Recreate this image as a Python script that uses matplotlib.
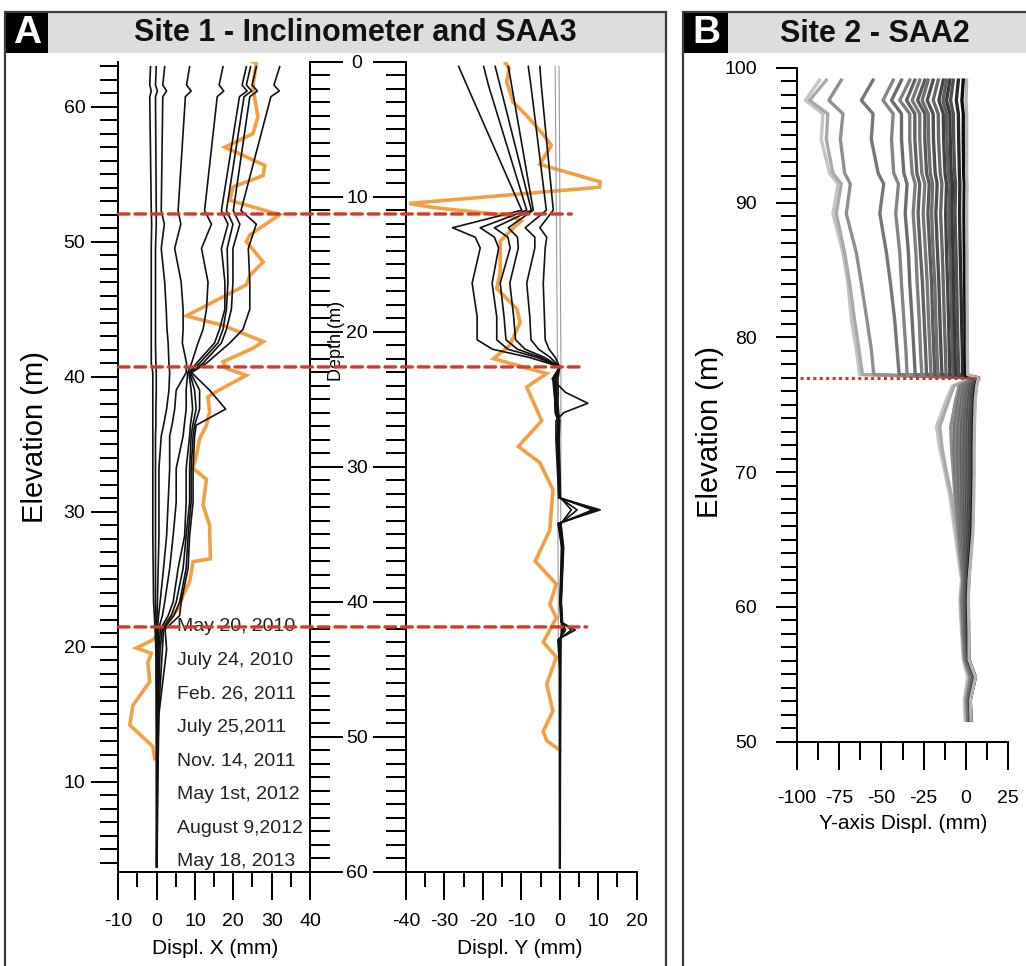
import matplotlib
matplotlib.use("Agg")
import matplotlib.pyplot as plt
from matplotlib import font_manager
from matplotlib.patches import Rectangle, ConnectionPatch
from matplotlib.ticker import MultipleLocator

plt.rcParams['font.family'] = ['Liberation Sans', 'DejaVu Sans']
plt.rcParams['axes.unicode_minus'] = False

# ---------------- data: panel A, Displ. X ----------------
TOP_ELEV = 63.33  # collar elevation (depth 0)
X_ELEV = [62.96, 61.6, 61.16, 60.74, 52.3, 51.3, 49.5, 47.0, 45.0, 43.5, 42.5, 41.0, 40.3, 39.0,
          37.6, 36.4, 35.6, 33.2, 30.7, 28.2, 25.8, 23.3, 22.3, 21.3, 19.8, 15.0, 10.0, 3.7]
X_SAA = [
    [-1.6, -1.8, -1.4, -1.8, -1.4, -1.3, -1.4, -1.4, -1.4, -1.4, -1.4, -1.4, -1.0, -1.0, -1.0, -1.0, -1.0, -1.0, -1.0, -1.0, -0.9, -0.8, -0.6, -0.4, -0.2, -0.1, 0.0, 0.0],
    [-0.1, -0.3, 0.2, -0.3, -0.1, -0.1, -0.3, -0.3, -0.3, -0.3, -0.3, -0.2, -0.1, -0.1, -0.2, -0.2, -0.3, -0.3, -0.3, -0.3, -0.3, -0.3, -0.2, -0.1, 0.0, 0.0, 0.0, 0.0],
    [2.1, 1.6, 2.6, 1.6, 1.2, 2.0, 1.2, 2.1, 2.5, 2.7, 3.0, 3.2, 3.4, 3.2, 2.6, 1.8, 1.2, 0.6, 0.6, 0.6, 0.4, 0.2, 0.1, 0.0, 0.0, 0.0, 0.0, 0.0],
    [8.6, 7.8, 9.0, 7.5, 5.6, 6.3, 4.7, 6.4, 6.9, 6.9, 6.7, 7.8, 7.7, 5.1, 4.7, 4.0, 3.4, 3.4, 3.0, 2.6, 1.8, 0.9, 0.5, 0.2, 0.2, 0.1, 0.0, 0.0],
    [17.3, 16.3, 17.5, 15.8, 12.5, 14.3, 11.7, 13.4, 13.0, 12.1, 10.8, 9.1, 8.1, 7.7, 7.7, 7.2, 6.9, 5.1, 5.1, 4.3, 3.4, 2.1, 1.5, 0.5, 0.4, 0.2, 0.1, 0.0],
    [23.4, 22.3, 23.6, 21.6, 16.9, 18.6, 16.9, 17.8, 17.8, 16.4, 15.1, 10.4, 8.4, 9.0, 9.4, 8.8, 8.6, 7.7, 7.7, 7.3, 5.6, 4.3, 3.0, 1.0, 0.6, 0.3, 0.1, 0.0],
    [24.5, 23.4, 24.8, 22.8, 18.2, 19.9, 18.4, 18.6, 18.2, 17.3, 16.0, 11.2, 8.6, 9.9, 10.3, 9.4, 9.0, 8.6, 8.6, 7.7, 6.9, 5.1, 3.8, 1.5, 0.9, 0.4, 0.2, 0.0],
    [26.0, 24.9, 26.3, 24.3, 20.0, 21.7, 19.9, 19.9, 19.5, 18.2, 16.9, 12.1, 8.8, 11.2, 11.2, 9.9, 9.5, 9.0, 9.0, 8.2, 7.7, 6.0, 4.5, 1.8, 1.5, 0.5, 0.2, 0.1],
    [32.1, 30.6, 32.0, 29.8, 22.0, 26.0, 23.9, 24.3, 24.3, 22.5, 19.1, 13.0, 9.1, 13.8, 18.0, 10.3, 9.9, 9.5, 9.5, 8.6, 8.2, 6.4, 6.0, 2.2, 2.6, 0.6, 0.3, 0.1],
]
X_INCL_ELEV = [63.56, 63.2, 61.5, 59.2, 58.0, 57.0, 55.65, 54.9, 54.05, 53.06, 52.0, 50.5, 50.0, 48.5,
               47.5, 46.8, 44.5, 43.8, 42.6, 42.1, 41.1, 40.6, 40.1, 38.9, 38.5, 37.4, 36.4, 35.4,
               34.2, 33.2, 32.4, 30.5, 29.0, 26.5, 26.3, 24.8, 23.8, 22.8, 21.8, 20.8, 20.5, 19.9,
               19.5, 18.8, 17.4, 15.65, 14.9, 14.2, 12.6, 11.7]
X_INCL_MM = [23.4, 26.0, 25.1, 26.4, 25.1, 17.8, 28.2, 27.8, 19.9, 19.1, 32.1, 24.3, 23.4, 27.8,
             24.3, 23.4, 7.7, 17.3, 27.8, 25.1, 17.3, 18.2, 23.4, 15.6, 13.4, 13.8, 13.0, 11.2,
             10.4, 9.5, 13.0, 12.1, 13.8, 14.0, 9.5, 8.6, 6.9, 5.6, 2.5, 0.0, -1.0, -5.3,
             -1.4, -2.3, -1.8, -6.2, -6.6, -7.0, -1.0, -0.5]

# ---------------- data: panel A, Displ. Y ----------------
Y_DEPTH = [0.35, 1.8, 11.0, 12.3, 13.0, 13.8, 16.4, 18.9, 20.6, 21.3, 21.9, 22.6, 23.5, 24.5, 25.3,
           26.0, 26.6, 28.0, 31.0, 32.3, 33.2, 34.2, 36.0, 40.0, 41.5, 42.1, 42.8, 45.0, 59.7]
Y_SAA = [
    [-26.3, -24.1, -9.9, -27.9, -22.0, -20.7, -22.8, -21.5, -21.5, -17.5, -8.0, 0.0, -2.0, 1.5, 7.3, 1.0, -1.0, -1.0, -0.5, -0.3, 10.5, -0.5, 0.5, 0.0, 0.3, 4.0, -0.5, 0.0, 0.0],
    [-19.8, -18.5, -8.6, -20.7, -17.0, -15.9, -17.6, -16.4, -16.4, -13.5, -6.0, 0.0, -1.5, -1.3, -1.3, -1.2, -0.5, -0.8, -0.3, -0.2, 9.9, -0.3, 0.6, 0.1, 0.4, 3.0, -0.3, 0.0, 0.0],
    [-16.8, -15.5, -7.4, -17.0, -13.5, -12.9, -15.5, -14.5, -14.0, -11.0, -5.0, 0.0, -1.8, -1.5, -1.2, -1.0, -0.3, -0.7, -0.2, -0.2, 9.2, -0.2, 0.7, 0.2, 0.5, 1.5, -0.2, 0.1, 0.0],
    [-13.4, -12.5, -6.9, -13.4, -11.0, -10.8, -13.0, -12.0, -11.5, -9.0, -4.0, 0.0, -1.2, -1.0, -1.0, -0.8, -0.4, -0.5, -0.1, 0.0, 8.5, 0.0, 0.8, 0.3, 0.6, 1.0, 0.0, 0.1, 0.0],
    [-8.2, -7.5, -3.5, -9.0, -6.5, -6.5, -8.6, -7.8, -7.5, -5.5, -2.5, 0.0, -1.0, -0.8, -0.8, -0.6, -0.2, -0.3, 0.0, 0.0, 4.5, 0.2, 0.9, 0.3, 0.6, 0.8, 0.2, 0.2, 0.0],
    [-5.2, -4.8, -1.7, -5.2, -3.4, -3.8, -4.3, -4.0, -3.8, -2.8, -1.2, 0.0, -0.5, -0.4, -0.5, -0.3, 0.0, -0.2, 0.1, 0.2, 3.0, 0.3, 1.0, 0.4, 0.7, 0.5, 0.3, 0.2, 0.1],
]
Y_GRAY_DEPTH = [0.35, 22.6, 59.7]
Y_GRAY = [[-1.2, -0.6, -0.2], [-0.2, 0.3, 0.1]]
Y_INCL_DEPTH = [0.0, 0.5, 1.5, 3.0, 4.0, 5.4, 6.2, 7.6, 8.9, 9.3, 10.5, 10.8, 11.4, 11.8, 12.3, 13.3,
                15.6, 16.8, 18.3, 19.3, 21.0, 22.0, 23.1, 24.1, 26.6, 28.5, 29.7, 31.7, 34.7, 37.0,
                38.7, 40.2, 41.2, 43.0, 44.1, 46.1, 48.1, 49.6, 50.3, 51.0]
Y_INCL_MM = [-14.3, -13.2, -13.8, -12.1, -8.6, -4.3, -2.2, -5.2, 10.5, 10.3, -39.2, -33.0, -13.0, -10.0,
             -12.0, -15.5, -15.5, -16.4, -11.2, -10.3, -13.0, -17.2, -3.4, -8.6, -4.7, -10.8, -5.2, -1.8,
             -2.6, -6.4, -0.9, -2.6, -0.9, -4.3, -0.9, -3.4, -1.8, -4.3, -3.4, 0.0]

DATES = ["May 20, 2010", "July 24, 2010", "Feb. 26, 2011", "July 25,2011",
         "Nov. 14, 2011", "May 1st, 2012", "August 9,2012", "May 18, 2013"]
SLIP_ELEV_A = [52.05, 40.72, 21.46]
SLIP_END_Y_MM = [3.0, 6.5, 7.0]

# ---------------- data: panel B ----------------
B_UP_ELEV = [99.1, 97.6, 96.6, 94.7, 92.2, 91.4, 89.2, 86.3, 84.0, 81.3, 79.1, 77.25]
B_LOW_ELEV = [77.0, 76.4, 75.4, 73.4, 71.7, 70.0, 68.2, 65.5, 62.0, 60.5, 58.1, 56.1, 54.8, 53.1, 51.6]
B_UP = [
    [-86.5, -94.8, -84.5, -85.5, -80.6, -75.6, -78.6, -72.7, -69.7, -67.7, -64.8, -62.8],
    [-82.5, -92.4, -81.6, -82.5, -78.6, -73.7, -76.6, -71.7, -68.7, -65.8, -63.2, -61.2],
    [-73.7, -81.0, -72.7, -74.2, -71.7, -68.3, -70.7, -64.8, -61.8, -58.5, -55.9, -54.5],
    [-54.9, -61.8, -54.9, -55.9, -51.9, -48.6, -50.9, -47.0, -44.6, -42.1, -40.7, -39.5],
    [-43.0, -49.0, -43.0, -44.0, -42.7, -39.9, -41.5, -39.1, -38.1, -36.7, -35.5, -34.8],
    [-38.1, -44.0, -38.1, -38.1, -36.7, -34.8, -35.9, -34.0, -33.2, -31.8, -30.8, -30.0],
    [-33.2, -39.1, -33.2, -33.2, -31.8, -30.0, -31.2, -29.6, -28.8, -27.6, -26.9, -26.1],
    [-30.2, -35.1, -30.2, -30.2, -29.0, -27.3, -28.3, -26.9, -25.7, -24.7, -23.9, -23.3],
    [-27.3, -31.8, -27.3, -27.3, -26.1, -24.3, -25.3, -23.9, -22.9, -22.1, -21.3, -20.7],
    [-24.3, -28.6, -24.3, -24.3, -23.3, -21.7, -22.5, -21.3, -20.3, -19.7, -19.0, -18.4],
    [-22.3, -25.9, -22.3, -22.1, -21.1, -19.7, -20.3, -19.4, -18.4, -17.8, -17.2, -16.6],
    [-19.4, -22.9, -19.4, -19.2, -18.2, -17.0, -17.8, -16.8, -16.0, -15.4, -14.8, -14.2],
    [-16.4, -19.4, -16.4, -16.2, -15.2, -14.2, -15.0, -14.0, -13.4, -12.8, -12.2, -11.8],
    [-13.4, -16.0, -13.4, -13.2, -12.4, -11.5, -12.0, -11.5, -10.9, -10.3, -9.9, -9.5],
    [-11.5, -13.6, -11.5, -11.3, -10.5, -9.5, -10.1, -9.5, -8.9, -8.5, -8.1, -7.7],
    [-9.5, -11.5, -9.5, -9.3, -8.7, -7.9, -8.3, -7.7, -7.3, -6.9, -6.5, -6.1],
    [-7.5, -9.1, -7.5, -7.3, -6.7, -6.1, -6.5, -5.9, -5.5, -5.1, -4.7, -4.3],
    [-4.5, -5.7, -4.5, -4.3, -3.9, -3.6, -3.8, -3.4, -3.0, -2.6, -2.2, -2.0],
    [-1.6, -2.4, -1.6, -1.6, -1.4, -1.0, -1.2, -1.0, -0.8, -0.6, -0.4, -0.2],
    [0.4, 0.0, 0.4, 0.4, 0.4, 0.6, 0.4, 0.6, 0.6, 0.8, 0.8, 1.0],
]
B_LOW = [
    [4.0, -8.0, -11.5, -17.4, -15.4, -12.4, -9.5, -6.5, -2.6, -3.6, -2.6, -1.6, 1.0, -1.0, -0.5],
    [4.5, -7.0, -10.0, -15.5, -14.0, -11.5, -8.5, -5.5, -2.2, -3.2, -2.2, -1.2, 2.0, -0.3, 0.3],
    [5.0, -4.0, -6.0, -9.0, -8.5, -7.5, -6.5, -4.5, -1.8, -2.6, -1.8, -0.8, 2.6, 0.4, 1.0],
    [5.5, -3.0, -4.5, -7.0, -7.0, -6.5, -5.5, -4.0, -1.5, -2.2, -1.5, -0.5, 3.0, 0.8, 1.2],
    [6.0, -2.0, -3.5, -5.5, -5.8, -5.5, -4.8, -3.5, -1.2, -1.8, -1.2, -0.2, 3.4, 1.0, 1.5],
    [6.0, -1.2, -2.5, -4.5, -4.8, -4.5, -4.0, -3.0, -1.0, -1.5, -1.0, 0.0, 3.8, 1.2, 1.6],
    [6.5, -0.5, -1.5, -3.5, -3.8, -3.5, -3.2, -2.5, -0.8, -1.2, -0.8, 0.2, 4.0, 1.4, 1.8],
    [6.5, 0.2, -0.7, -2.5, -2.8, -2.6, -2.4, -2.0, -0.6, -1.0, -0.6, 0.4, 4.2, 1.5, 2.0],
    [6.5, 0.8, 0.0, -1.6, -1.9, -1.8, -1.7, -1.5, -0.4, -0.8, -0.4, 0.6, 4.4, 1.6, 2.0],
    [7.0, 1.4, 0.6, -0.8, -1.0, -1.0, -1.0, -1.0, -0.2, -0.6, -0.2, 0.8, 4.6, 1.8, 2.2],
    [7.0, 2.0, 1.2, 0.0, -0.2, -0.2, -0.3, -0.5, 0.0, -0.4, 0.0, 1.0, 4.8, 1.8, 2.2],
    [7.0, 2.6, 1.8, 0.8, 0.6, 0.6, 0.4, 0.0, 0.2, -0.2, 0.2, 1.0, 5.0, 2.0, 2.4],
    [7.0, 3.2, 2.4, 1.5, 1.3, 1.3, 1.1, 0.6, 0.4, 0.0, 0.4, 1.2, 5.0, 2.0, 2.4],
    [7.0, 3.8, 3.0, 2.2, 2.0, 2.0, 1.8, 1.2, 0.6, 0.2, 0.6, 1.2, 5.2, 2.2, 2.6],
    [7.2, 4.3, 3.5, 2.8, 2.6, 2.6, 2.4, 1.8, 0.8, 0.4, 0.8, 1.4, 5.2, 2.2, 2.6],
    [7.2, 4.8, 4.0, 3.3, 3.1, 3.1, 2.9, 2.3, 1.0, 0.6, 1.0, 1.4, 5.4, 2.4, 2.8],
    [7.3, 5.2, 4.4, 3.8, 3.6, 3.6, 3.4, 2.8, 1.2, 0.8, 1.2, 1.6, 5.4, 2.4, 2.8],
    [7.3, 5.6, 4.8, 4.2, 4.0, 4.0, 3.8, 3.3, 1.4, 1.0, 1.4, 1.6, 5.5, 2.5, 3.0],
    [7.3, 6.0, 5.2, 4.6, 4.4, 4.4, 4.2, 3.7, 1.6, 1.2, 1.6, 1.8, 5.5, 2.5, 3.0],
    [7.3, 6.3, 5.5, 5.0, 4.8, 4.8, 4.6, 4.1, 1.8, 1.4, 1.8, 1.8, 5.6, 2.6, 3.0],
]
B_COLORS = ['#c4c4c4', '#a9a9a9', '#8f8f8f', '#767676', '#858585', '#6c6c6c', '#7e7e7e', '#626262',
            '#777777', '#5a5a5a', '#6e6e6e', '#4f4f4f', '#676767', '#454545', '#5e5e5e', '#3a3a3a',
            '#505050', '#2a2a2a', '#0d0d0d', '#b5b5b5']
SLIP_ELEV_B = 77.0
SLIP_B_X = [-98.0, 8.3]

# ---------------- styling ----------------
ORANGE = '#f2a043'
BLACK = '#111111'
RED = '#d23a2e'
PX = 0.72  # points per pixel at 100 dpi
W, H = 1026, 966
TICK_FS = 14

names = {f.name for f in font_manager.fontManager.ttflist}
if 'Liberation Sans Narrow' in names:
    TITLE_FONT, TITLE_SIZE = ['Liberation Sans Narrow', 'DejaVu Sans'], 26.5
else:
    TITLE_FONT, TITLE_SIZE = ['Liberation Sans', 'DejaVu Sans'], 22

fig = plt.figure(figsize=(W / 100, H / 100), dpi=100)
fig.patch.set_facecolor('white')


def box(l, t, r, b):
    return [l / W, 1 - b / H, (r - l) / W, (b - t) / H]


def frect(l, t, r, b, **kw):
    fig.add_artist(Rectangle((l / W, 1 - b / H), (r - l) / W, (b - t) / H,
                             transform=fig.transFigure, **kw))


# panel frames & headers
frect(5, 12, 666, 53, facecolor='#dddddd', edgecolor='none', zorder=-2)
frect(5, 12, 48, 53, facecolor='black', edgecolor='none', zorder=-1)
frect(5, 12, 666, 1000, facecolor='none', edgecolor='#3c3c3c', lw=1.6, zorder=-1)
frect(683, 12, 1040, 53, facecolor='#dddddd', edgecolor='none', zorder=-2)
frect(683, 12, 728, 53, facecolor='black', edgecolor='none', zorder=-1)
frect(683, 12, 1040, 1000, facecolor='none', edgecolor='#3c3c3c', lw=1.6, zorder=-1)
fig.text(27 / W, 1 - 33 / H, 'A', color='white', fontsize=28, fontweight='bold', ha='center', va='center')
fig.text(706 / W, 1 - 33 / H, 'B', color='white', fontsize=28, fontweight='bold', ha='center', va='center')
fig.text(355 / W, 1 - 33 / H, 'Site 1 - Inclinometer and SAA3', fontsize=TITLE_SIZE, fontweight='bold',
         family=TITLE_FONT, ha='center', va='center', color='#111111')
fig.text(875 / W, 1 - 34 / H, 'Site 2 - SAA2', fontsize=TITLE_SIZE, fontweight='bold',
         family=TITLE_FONT, ha='center', va='center', color='#111111')

axX = fig.add_axes(box(118.3, 61.7, 310, 871.7))
axY = fig.add_axes(box(406, 61.7, 636.7, 871.7))
axB = fig.add_axes(box(796.7, 68, 1008.3, 741.7))


def style_spines(ax, visible):
    for s in ['top', 'right', 'left', 'bottom']:
        ax.spines[s].set_visible(s in visible)
        ax.spines[s].set_linewidth(2 * PX)
        ax.spines[s].set_color('black')


# ---- Displ. X axes ----
axX.set_xlim(-10, 40)
axX.set_ylim(TOP_ELEV - 60, TOP_ELEV)
style_spines(axX, ['left', 'bottom'])
axX.xaxis.set_major_locator(MultipleLocator(10))
axX.xaxis.set_minor_locator(MultipleLocator(5))
axX.yaxis.set_major_locator(MultipleLocator(10))
axX.yaxis.set_minor_locator(MultipleLocator(1))
axX.tick_params(axis='x', which='major', direction='out', length=28 * PX, width=2 * PX, pad=13 * PX, labelsize=TICK_FS)
axX.tick_params(axis='x', which='minor', direction='out', length=15 * PX, width=2 * PX)
axX.tick_params(axis='y', which='major', direction='out', length=27 * PX, width=2 * PX, pad=6 * PX, labelsize=TICK_FS)
axX.tick_params(axis='y', which='minor', direction='out', length=18 * PX, width=2 * PX)

axD = axX.twinx()
axD.set_ylim(60, 0)
style_spines(axD, ['right'])
axD.yaxis.set_major_locator(MultipleLocator(10))
axD.yaxis.set_minor_locator(MultipleLocator(1))
axD.tick_params(axis='y', which='major', direction='out', length=33 * PX, width=2 * PX, labelright=False)
axD.tick_params(axis='y', which='minor', direction='out', length=20 * PX, width=2 * PX)

axX.plot(X_INCL_MM, X_INCL_ELEV, color=ORANGE, lw=2.6, solid_joinstyle='miter', zorder=2)
for c in X_SAA:
    axX.plot(c, X_ELEV, color=BLACK, lw=1.2, zorder=3)

axX.set_xlabel('Displ. X (mm)', fontsize=15)
axX.xaxis.label.set_va('center')
axX.xaxis.set_label_coords(0.504, -0.095)
axX.set_ylabel('Elevation (m)', fontsize=21)
axX.yaxis.label.set_va('center')
axX.yaxis.set_label_coords(-0.434, 0.537)

for i, d in enumerate(DATES):
    axX.text(0.306, 0.3025 - i * 0.0415, d, transform=axX.transAxes, fontsize=14,
             color='#222222', ha='left', va='center', zorder=1)

# ---- Displ. Y axes ----
axY.set_xlim(-40, 20)
axY.set_ylim(60, 0)
style_spines(axY, ['left', 'bottom'])
axY.xaxis.set_major_locator(MultipleLocator(10))
axY.xaxis.set_minor_locator(MultipleLocator(5))
axY.yaxis.set_major_locator(MultipleLocator(10))
axY.yaxis.set_minor_locator(MultipleLocator(1))
axY.tick_params(axis='x', which='major', direction='out', length=28 * PX, width=2 * PX, pad=13 * PX, labelsize=TICK_FS)
axY.tick_params(axis='x', which='minor', direction='out', length=15 * PX, width=2 * PX)
axY.tick_params(axis='y', which='major', direction='out', length=33 * PX, width=2 * PX, pad=16 * PX, labelsize=TICK_FS)
axY.tick_params(axis='y', which='minor', direction='out', length=20 * PX, width=2 * PX)
plt.setp(axY.yaxis.get_majorticklabels(), ha='center')

axY.plot(Y_INCL_MM, Y_INCL_DEPTH, color=ORANGE, lw=2.6, solid_joinstyle='miter', zorder=2)
for g in Y_GRAY:
    axY.plot(g, Y_GRAY_DEPTH, color='#9a9a9a', lw=0.8, zorder=3)
for c in Y_SAA:
    axY.plot(c, Y_DEPTH, color=BLACK, lw=1.2, zorder=3)

axY.set_xlabel('Displ. Y (mm)', fontsize=15)
axY.xaxis.label.set_va('center')
axY.xaxis.set_label_coords(0.494, -0.095)
axY.set_ylabel('Depth (m)', fontsize=13)
axY.yaxis.label.set_va('center')
axY.yaxis.set_label_coords(-0.30, 0.655)

# slip surfaces spanning both plots
for elev, end_mm in zip(SLIP_ELEV_A, SLIP_END_Y_MM):
    cp = ConnectionPatch(xyA=(-10, elev), coordsA=axX.transData,
                         xyB=(end_mm, TOP_ELEV - elev), coordsB=axY.transData,
                         color=RED, lw=2.4, linestyle=(0, (3.2, 1.8)), zorder=5)
    fig.add_artist(cp)

# ---- Panel B ----
axB.set_xlim(-100, 25)
axB.set_ylim(50, 100)
style_spines(axB, ['left', 'bottom'])
axB.xaxis.set_major_locator(MultipleLocator(25))
axB.xaxis.set_minor_locator(MultipleLocator(12.5))
axB.yaxis.set_major_locator(MultipleLocator(10))
axB.yaxis.set_minor_locator(MultipleLocator(1))
axB.tick_params(axis='x', which='major', direction='out', length=28 * PX, width=2 * PX, pad=20 * PX, labelsize=TICK_FS)
axB.tick_params(axis='x', which='minor', direction='out', length=18 * PX, width=2 * PX)
axB.tick_params(axis='y', which='major', direction='out', length=21 * PX, width=2 * PX, pad=19 * PX, labelsize=TICK_FS)
axB.tick_params(axis='y', which='minor', direction='out', length=16 * PX, width=2 * PX)

for up, low, col in zip(B_UP, B_LOW, B_COLORS):
    axB.plot(up + low, B_UP_ELEV + B_LOW_ELEV, color=col, lw=2.4, solid_joinstyle='round', zorder=2)
axB.plot(SLIP_B_X, [SLIP_ELEV_B, SLIP_ELEV_B], color='#e0302a', lw=2.2,
         linestyle=(0, (1, 1.1)), clip_on=False, zorder=4)

axB.set_xlabel('Y-axis Displ. (mm)', fontsize=15)
axB.xaxis.label.set_va('center')
axB.xaxis.set_label_coords(0.502, -0.121)
axB.set_ylabel('Elevation (m)', fontsize=21)
axB.yaxis.label.set_va('center')
axB.yaxis.set_label_coords(-0.41, 0.46)

fig.savefig('out.png', dpi=100, facecolor='white')
